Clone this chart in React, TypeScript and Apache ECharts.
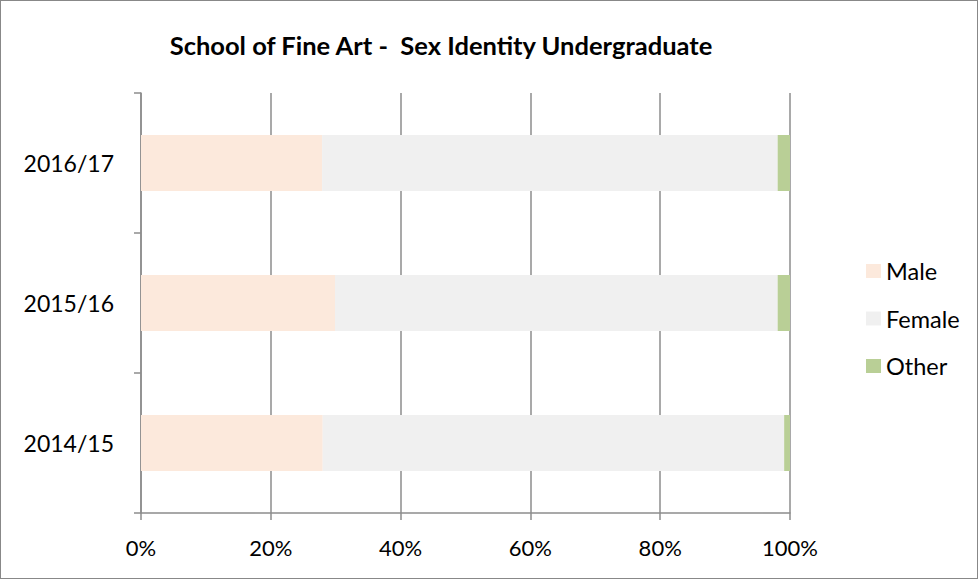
import React, { useEffect, useRef } from "react";
import * as echarts from "echarts";

const categories = ["2014/15", "2015/16", "2016/17"];
const maleValues = [28.0, 29.9, 27.9];
const femaleValues = [71.1, 68.2, 70.2];
const otherValues = [0.9, 1.9, 1.9];
const xTicks = [0, 20, 40, 60, 80, 100];
const titleText = "School of Fine Art -  Sex Identity Undergraduate";

const FONT = "Lato, 'Open Sans', sans-serif";
const AXIS_GRAY = "#8c8c8c";

export default function App() {
  const ref = useRef<HTMLDivElement>(null);
  useEffect(() => {
    if (!ref.current) return;
    const chart = echarts.init(ref.current, null, { renderer: "svg" });
    const mk = (name: string, data: number[], color: string) => ({
      name,
      type: "bar",
      stack: "total",
      data,
      barCategoryGap: "60%",
      itemStyle: { color },
      emphasis: { disabled: true },
    });
    chart.setOption({
      animation: false,
      backgroundColor: "#ffffff",
      textStyle: { fontFamily: FONT },
      title: {
        text: titleText,
        left: 435,
        textAlign: "center",
        top: 24,
        textStyle: { fontFamily: FONT, fontSize: 25.5, fontWeight: "bold", color: "#000", lineHeight: 30 },
      },
      legend: {
        orient: "vertical",
        left: 860,
        top: 253,
        itemWidth: 15,
        itemHeight: 14,
        itemGap: 23.5,
        icon: "rect",
        textStyle: { fontFamily: FONT, fontSize: 23.5, color: "#000" },
        data: ["Male", "Female", "Other"],
      },
      grid: { left: 140, right: 187, top: 92, bottom: 65, containLabel: false },
      xAxis: {
        type: "value",
        min: xTicks[0],
        max: xTicks[xTicks.length - 1],
        interval: 20,
        axisLine: { show: true, lineStyle: { color: AXIS_GRAY, width: 1.5 } },
        axisTick: { show: true, length: 7, lineStyle: { color: AXIS_GRAY, width: 1.5 } },
        axisLabel: {
          formatter: (v: number) => (xTicks.includes(v) ? v + "%" : ""),
          fontFamily: FONT,
          fontSize: 22,
          color: "#000",
          margin: 23,
        },
        splitLine: { show: true, lineStyle: { color: AXIS_GRAY, width: 1.5 } },
      },
      yAxis: {
        type: "category",
        data: categories,
        axisLine: { show: true, lineStyle: { color: AXIS_GRAY, width: 1.5 } },
        axisTick: { show: true, length: 7, lineStyle: { color: AXIS_GRAY, width: 1.5 } },
        axisLabel: { fontFamily: FONT, fontSize: 23, color: "#000", margin: 27 },
        splitLine: { show: false },
      },
      series: [
        mk("Male", maleValues, "#fce9dc"),
        mk("Female", femaleValues, "#f0f0f0"),
        mk("Other", otherValues, "#b9cf96"),
      ],
    });
    return () => chart.dispose();
  }, []);
  return (
    <div
      style={{
        position: "fixed",
        left: 0,
        top: 0,
        width: 978,
        height: 579,
        boxSizing: "border-box",
        border: "1px solid #888",
        background: "#fff",
      }}
    >
      <div ref={ref} style={{ width: 976, height: 577 }} />
    </div>
  );
}
